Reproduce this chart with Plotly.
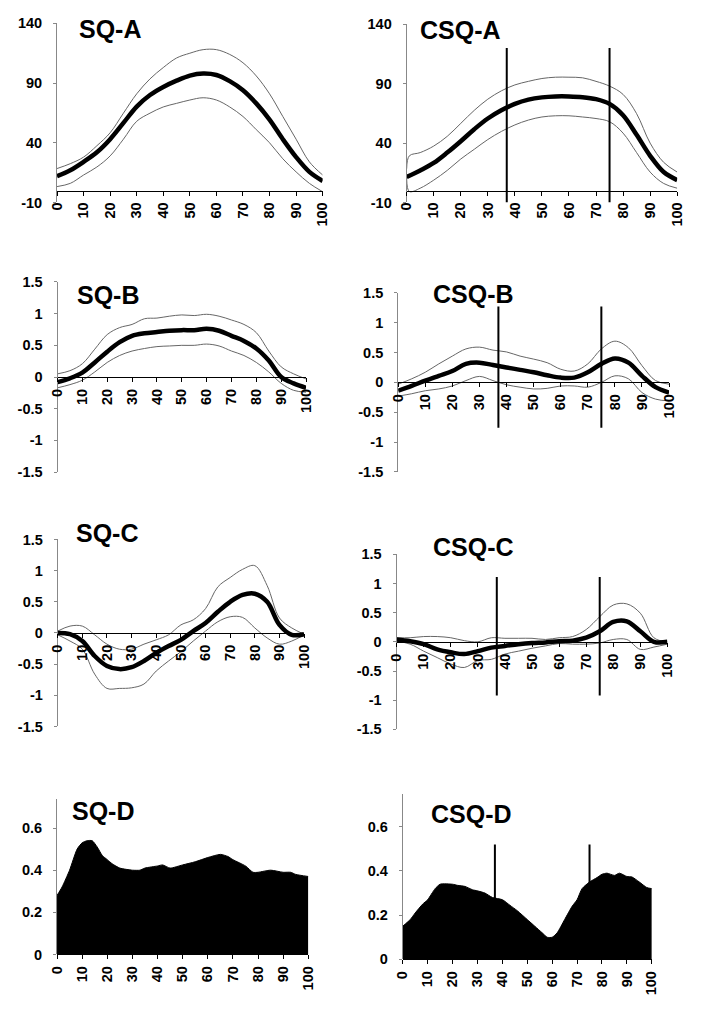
import plotly.graph_objects as go

# page body keeps its default 8px margin -> figure is 16px smaller than the 701x1015 window
OFF = 8
W, H = 701 - 2 * OFF, 1015 - 2 * OFF

# ---------------- data ----------------
X5 = list(range(0, 101, 5))

SQA_mean = [12, 17, 24, 32, 43, 56.6, 70.3, 80, 86.7, 92, 96.3, 98, 96.8, 91.6, 84, 73, 59.4, 43, 28, 15.6, 8]
SQA_up = [18.4, 22.5, 28, 37.5, 48.4, 64.8, 81, 93.5, 103, 111, 115, 118, 118, 114, 107, 96, 81, 62, 43, 24, 13]
SQA_lo = [3.3, 6, 13, 19.7, 29, 43, 58, 64.8, 70, 73, 75.8, 77.7, 75.8, 70, 62, 51, 40, 26.6, 15.6, 6, -1]

CSQA_mean = [11.5, 17, 23.3, 32, 41.6, 51.7, 60.7, 67.6, 73, 76.6, 78.5, 79.3, 79.3, 78.7, 77, 73, 63.5, 47, 29.3, 15.6, 8.8]
CSQA_x_band = [0, 1] + X5[1:]
CSQA_up = [18.4, 29.3, 32, 37.5, 45.7, 56.6, 67.6, 77, 84, 89, 92, 94.4, 95.5, 95.5, 95, 92, 88, 81, 64.8, 40, 23.8, 15.6]
CSQA_lo = [10, -0.8, 2, 8.8, 17, 26.6, 34.8, 43, 49.8, 55.3, 59.4, 62, 63, 63, 62, 60.7, 58, 48.4, 32, 15.6, 6, 2]

SQB_mean = [-0.08, -0.02, 0.07, 0.23, 0.40, 0.55, 0.65, 0.69, 0.71, 0.73, 0.74, 0.74, 0.76, 0.73, 0.65, 0.57, 0.45, 0.26, 0.0, -0.10, -0.17]
SQB_up = [0.05, 0.10, 0.21, 0.44, 0.67, 0.78, 0.83, 0.92, 0.93, 0.96, 0.98, 0.97, 0.99, 0.96, 0.90, 0.83, 0.70, 0.41, 0.16, 0.05, -0.03]
SQB_lo = [-0.17, -0.12, -0.05, 0.08, 0.23, 0.34, 0.41, 0.45, 0.48, 0.49, 0.50, 0.50, 0.52, 0.49, 0.41, 0.34, 0.23, 0.08, -0.10, -0.21, -0.24]

CSQB_mean = [-0.14, -0.06, 0.03, 0.11, 0.19, 0.31, 0.33, 0.29, 0.25, 0.21, 0.17, 0.12, 0.08, 0.08, 0.17, 0.31, 0.40, 0.33, 0.11, -0.08, -0.17]
CSQB_up = [-0.03, 0.06, 0.17, 0.31, 0.44, 0.56, 0.59, 0.54, 0.51, 0.44, 0.39, 0.33, 0.22, 0.19, 0.31, 0.56, 0.69, 0.58, 0.28, 0.03, -0.03]
CSQB_lo = [-0.23, -0.19, -0.14, -0.11, -0.06, 0.03, 0.10, 0.03, -0.04, -0.08, -0.11, -0.10, -0.06, -0.06, -0.08, 0.0, 0.11, 0.06, -0.17, -0.28, -0.31]

SQC_mean = [0.0, -0.02, -0.13, -0.37, -0.53, -0.58, -0.55, -0.45, -0.32, -0.21, -0.11, 0.03, 0.16, 0.34, 0.50, 0.61, 0.63, 0.50, 0.13, -0.03, -0.02]
SQC_up = [0.03, 0.11, 0.11, -0.03, -0.18, -0.26, -0.26, -0.18, -0.11, -0.03, 0.13, 0.21, 0.39, 0.74, 0.89, 1.02, 1.08, 0.76, 0.24, 0.08, -0.02]
SQC_lo = [-0.03, -0.13, -0.26, -0.66, -0.89, -0.89, -0.88, -0.82, -0.61, -0.45, -0.30, -0.13, 0.03, 0.18, 0.26, 0.25, 0.08, -0.08, -0.18, -0.13, -0.03]

CSQC_mean = [0.04, 0.01, -0.04, -0.13, -0.18, -0.21, -0.16, -0.10, -0.07, -0.04, -0.02, -0.01, 0.01, 0.02, 0.07, 0.18, 0.34, 0.35, 0.18, 0.0, 0.0]
CSQC_up = [0.07, 0.07, 0.09, 0.09, 0.07, 0.02, 0.0, 0.07, 0.06, 0.06, 0.06, 0.04, 0.07, 0.09, 0.21, 0.43, 0.63, 0.65, 0.49, 0.07, 0.0]
CSQC_lo = [0.01, -0.04, -0.16, -0.27, -0.38, -0.44, -0.32, -0.30, -0.21, -0.16, -0.11, -0.07, -0.03, -0.04, -0.04, -0.02, 0.04, 0.04, -0.13, -0.09, -0.04]

SQD_x = [0, 2, 5, 8, 10, 12, 14, 16, 18, 20, 22, 25, 30, 33, 35, 40, 42, 45, 50, 55, 60, 65, 68, 70, 75, 78, 80, 85, 90, 93, 95, 100]
SQD_y = [0.28, 0.32, 0.40, 0.50, 0.53, 0.54, 0.54, 0.51, 0.47, 0.45, 0.43, 0.41, 0.40, 0.40, 0.41, 0.42, 0.425, 0.41, 0.425, 0.44, 0.46, 0.475, 0.465, 0.45, 0.42, 0.39, 0.39, 0.40, 0.39, 0.39, 0.38, 0.37]

CSQD_x = [0, 3, 5, 8, 10, 13, 15, 20, 22, 25, 28, 30, 33, 36, 40, 43, 46, 50, 53, 56, 58, 60, 62, 65, 68, 70, 72, 75, 78, 80, 82, 85, 87, 90, 92, 95, 98, 100]
CSQD_y = [0.15, 0.18, 0.21, 0.25, 0.27, 0.32, 0.34, 0.34, 0.335, 0.33, 0.315, 0.31, 0.30, 0.28, 0.27, 0.245, 0.22, 0.18, 0.15, 0.12, 0.10, 0.10, 0.12, 0.18, 0.24, 0.27, 0.32, 0.35, 0.37, 0.385, 0.39, 0.38, 0.39, 0.375, 0.373, 0.35, 0.325, 0.32]

CSQ_marks = [37, 75]
MARK_A = [-10, 120]
MARK_B = [-0.76, 1.27]
MARK_C = [-0.92, 1.11]
MARK_D = [0, 0.52]

XTICKS = list(range(0, 101, 10))
YT_A = [-10, 40, 90, 140]
YT_BC = [-1.5, -1, -0.5, 0, 0.5, 1, 1.5]
YT_BC_TXT = ["-1.5", "-1", "-0.5", "0", "0.5", "1", "1.5"]
YT_D = [0, 0.2, 0.4, 0.6]
YT_D_TXT = ["0", "0.2", "0.4", "0.6"]

TITLES = ["SQ-A", "CSQ-A", "SQ-B", "CSQ-B", "SQ-C", "CSQ-C", "SQ-D", "CSQ-D"]

# ---------------- layout geometry (window pixels) ----------------
# x0, x1, ytop, ybot, ymin, ymax
panels = [
    (50, 322, 15.5, 197.5, -10, 140),
    (408, 685, 16.5, 197.5, -10, 140),
    (50.5, 305, 278.3, 471.5, -1.5, 1.5),
    (399.3, 676.7, 289.3, 471.4, -1.5, 1.5),
    (50.7, 303, 540, 730, -1.5, 1.5),
    (397.7, 675, 555, 733, -1.5, 1.5),
    (50, 307.3, 803.3, 961.7, 0, 0.74),
    (404, 659, 798.3, 966.7, 0, 0.75),
]
title_pos = [(70, 21), (420, 22.5), (68, 292), (433, 291), (67, 533), (433, 548), (63, 816), (431, 819)]


def fx(px):
    return (px - OFF) / W


def fy(py):
    return 1 - (py - OFF) / H


FONT = "Liberation Sans, Arial, sans-serif"
tickfont = dict(family=FONT, size=14.5, color="black", weight="bold")

fig = go.Figure()
layout = dict(width=W, height=H, margin=dict(l=0, r=0, t=0, b=0, pad=0),
              paper_bgcolor="white", plot_bgcolor="white", showlegend=False)

for i, (x0, x1, yt, yb, ymin, ymax) in enumerate(panels):
    n = i + 1
    xa = "xaxis" if n == 1 else f"xaxis{n}"
    ya = "yaxis" if n == 1 else f"yaxis{n}"
    xr = "x" if n == 1 else f"x{n}"
    zero_px = yt + (ymax - 0) / (ymax - ymin) * (yb - yt)
    layout[xa] = dict(domain=[fx(x0), fx(x1)], range=[0, 100], anchor="free", position=fy(zero_px),
                      tickvals=XTICKS, tickangle=-90, tickfont=tickfont,
                      showline=True, linecolor="black", linewidth=1,
                      ticks="outside", ticklen=4, tickcolor="black",
                      showgrid=False, zeroline=False, ticklabelstandoff=1)
    if ymax == 140:
        tv, tt = YT_A, [str(v) for v in YT_A]
    elif ymin == -1.5:
        tv, tt = YT_BC, YT_BC_TXT
    else:
        tv, tt = YT_D, YT_D_TXT
    layout[ya] = dict(domain=[fy(yb), fy(yt)], range=[ymin, ymax], anchor=xr,
                      tickvals=tv, ticktext=tt, tickfont=tickfont,
                      showline=True, linecolor="#888", linewidth=1,
                      ticks="outside", ticklen=3, tickcolor="#888",
                      showgrid=False, zeroline=False, ticklabelstandoff=8)

series = [
    (X5, SQA_mean, X5, SQA_up, X5, SQA_lo),
    (X5, CSQA_mean, CSQA_x_band, CSQA_up, CSQA_x_band, CSQA_lo),
    (X5, SQB_mean, X5, SQB_up, X5, SQB_lo),
    (X5, CSQB_mean, X5, CSQB_up, X5, CSQB_lo),
    (X5, SQC_mean, X5, SQC_up, X5, SQC_lo),
    (X5, CSQC_mean, X5, CSQC_up, X5, CSQC_lo),
]
marks = {2: MARK_A, 4: MARK_B, 6: MARK_C, 8: MARK_D}

for i, s in enumerate(series):
    n = i + 1
    xr = "x" if n == 1 else f"x{n}"
    yr = "y" if n == 1 else f"y{n}"
    xm, ym, xu, yu, xl, yl = s
    for xx, yy in ((xu, yu), (xl, yl)):
        fig.add_trace(go.Scatter(x=xx, y=yy, mode="lines", xaxis=xr, yaxis=yr,
                                 line=dict(color="#666", width=1, shape="spline", smoothing=1.0),
                                 hoverinfo="skip"))
    fig.add_trace(go.Scatter(x=xm, y=ym, mode="lines", xaxis=xr, yaxis=yr,
                             line=dict(color="black", width=4.5, shape="spline", smoothing=1.0)))

fig.add_trace(go.Scatter(x=SQD_x, y=SQD_y, mode="lines", xaxis="x7", yaxis="y7",
                         fill="tozeroy", fillcolor="black",
                         line=dict(color="black", width=1, shape="spline", smoothing=0.6)))
fig.add_trace(go.Scatter(x=CSQD_x, y=CSQD_y, mode="lines", xaxis="x8", yaxis="y8",
                         fill="tozeroy", fillcolor="black",
                         line=dict(color="black", width=1, shape="spline", smoothing=0.6)))

for n, rng in marks.items():
    for m in CSQ_marks:
        fig.add_trace(go.Scatter(x=[m, m], y=rng, mode="lines", xaxis=f"x{n}", yaxis=f"y{n}",
                                 line=dict(color="black", width=2), cliponaxis=False))

annotations = []
for t, (px, py) in zip(TITLES, title_pos):
    annotations.append(dict(text=t, x=fx(px), y=fy(py), xref="paper", yref="paper",
                            xanchor="left", yanchor="middle", showarrow=False,
                            font=dict(family=FONT, size=25, color="black", weight="bold")))
layout["annotations"] = annotations

fig.update_layout(**layout)
fig.write_html("out.html", config={"displayModeBar": False})
